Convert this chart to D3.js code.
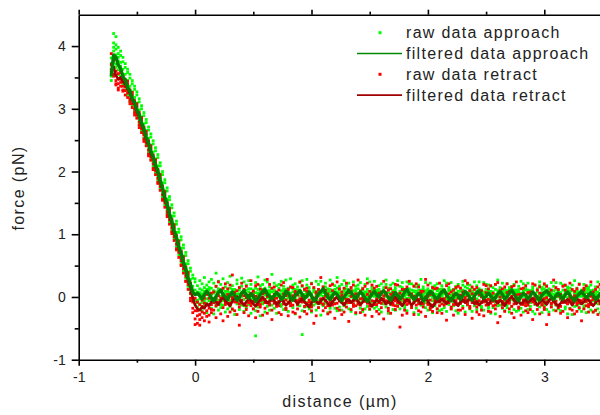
<!DOCTYPE html>
<html>
<head>
<meta charset="utf-8">
<script src="https://cdn.jsdelivr.net/npm/d3@7"></script>
<style>
  body { margin: 0; background: #fff; }
  svg { display: block; }
  text { font-family: Arial, "Liberation Sans", sans-serif; fill: #222; }
</style>
</head>
<body>
<script>
///////////////////////
// Force vs distance //
///////////////////////

// sample grid of the measurement (um), 0.02 steps from -0.72 to 3.50
var distance = d3.range(212).map(function(i) { return -0.72 + 0.02 * i; });

var xTicks = [-1, 0, 1, 2, 3];
var xMinor = [-0.5, 0.5, 1.5, 2.5, 3.5];
var yTicks = [-1, 0, 1, 2, 3, 4];
var yMinor = [-0.5, 0.5, 1.5, 2.5, 3.5];

var legendLabels = ["raw data approach", "filtered data approach", "raw data retract", "filtered data retract"];

// raw force (pN), several samples per grid point
var rawApproach = [
  [3.45,3.58,3.72,3.52,3.81,3.63],[3.80,4.05,3.92,4.20,3.74,3.98],[3.95,3.71,4.15,3.86,3.66,4.02],
  [3.62,3.88,3.76,3.98,3.55,3.82],[3.52,3.74,3.85,3.60,3.92,3.68],[3.46,3.63,3.75,3.55,3.82,3.40],
  [3.36,3.55,3.66,3.47,3.30,3.72],[3.27,3.45,3.58,3.38,3.63,3.22],[3.20,3.36,3.49,3.30,3.12,3.55],
  [3.10,3.27,3.40,3.21,3.45,3.04],[3.01,3.18,3.31,3.12,2.95,3.36],[2.92,3.09,3.22,3.03,3.27,2.86],
  [2.81,2.98,3.11,2.92,2.75,3.16],[2.70,2.87,3.00,2.81,3.05,2.64],[2.59,2.76,2.89,2.70,2.53,2.94],
  [2.48,2.65,2.78,2.59,2.83,2.42],[2.36,2.53,2.66,2.47,2.30,2.71],[2.25,2.42,2.55,2.36,2.60,2.19],
  [2.14,2.31,2.44,2.25,2.08,2.49],[2.03,2.20,2.33,2.14,2.38,1.97],[1.92,2.09,2.22,2.03,1.86,2.27],
  [1.79,1.96,2.09,1.90,2.14,1.73],[1.65,1.82,1.95,1.76,1.59,2.00],[1.52,1.69,1.82,1.63,1.87,1.46],
  [1.39,1.56,1.69,1.50,1.33,1.74],[1.25,1.42,1.55,1.36,1.60,1.19],[1.12,1.29,1.42,1.23,1.06,1.47],
  [.99,1.16,1.29,1.10,1.34,.93],[.86,1.03,1.16,.97,.80,1.21],[.73,.90,1.03,.84,1.08,.67],
  [.61,.78,.91,.72,.55,.96],[.48,.65,.78,.59,.83,.42],[.36,.53,.66,.47,.30,.71],
  [.23,.40,.53,.34,.58,.17],[.11,.28,.41,.22,.05,.46],[0,.17,.30,.11,.35,-.06],[-.06,.11,.24,.05,-.12,.29],
  [.18,-.05,.08,-.16,.04,-.09],[.26,.02,-.11,.13,-.03,.07],[-.09,.21,.05,-.22,.11,.00],[.15,-.14,.31,.01,-.06,.09],
  [.07,-.25,.19,-.03,.12,-.10],[-.12,.11,.24,-.06,.03,.15],[.03,.28,-.18,.14,-.07,.06],[.22,-.09,.06,-.27,.10,-.02],
  [-.04,.17,-.15,.38,.08,-.11],[.10,-.21,.02,.25,-.05,.13],[-.17,.08,.20,-.07,.01,-.12],[.29,-.02,-.13,.12,.05,-.06],
  [.05,.16,-.24,-.01,.09,-.06],[-.10,.23,.09,-.19,.02,-.04],[.14,-.06,.33,-.15,-.09,.07],[-.20,.04,.18,.07,.12,-.03],
  [.09,-.28,.12,-.03,.00,.10],[.21,-.11,-.02,.27,-.07,.05],[-.07,.15,-.20,.05,.11,-.01],[.17,.01,-.09,.30,.06,-.13],
  [-.14,.24,.07,-.23,-.04,.09],[.02,-.17,.19,.11,.04,-.08],[.26,-.05,-.12,.08,.13,.01],[-.03,.13,-.26,.20,-.10,.05],
  [.11,-.19,.04,-.08,.07,-.02],[-.22,.07,.23,.14,-.05,-.62],[.06,.32,-.10,-.16,.03,.12],[.18,-.07,.01,-.30,.09,-.04],
  [-.11,.20,.12,-.02,-.08,.06],[.08,-.24,.27,.03,.14,-.06],[.24,-.01,-.15,.10,.04,.06],[-.06,.16,-.21,.06,.10,-.03],
  [.13,-.13,.36,-.04,.01,.08],[-.18,.09,.02,.22,-.06,.11],[.04,-.09,.18,-.26,.07,-.01],[.20,.05,-.07,.14,-.12,.02],
  [-.15,.25,.10,-.12,.05,.00],[.09,-.20,-.03,.17,.12,-.07],[.27,-.04,.12,-.18,.03,.08],[-.08,.14,-.23,.02,-.02,.10],
  [.15,-.12,.06,.29,-.09,.04],[-.02,.19,-.17,-.06,.08,.13],[.12,-.27,.21,.04,-.04,.00],[-.13,.06,.16,-.09,.11,-.05],
  [.23,-.03,-.14,.11,.02,.07],[.01,.17,-.22,.26,-.08,-.60],[-.16,.10,.04,-.05,.13,-.02],[.19,-.15,.28,.07,.00,-.09],
  [.06,-.08,-.19,.15,.10,.03],[-.09,.22,.03,-.24,.05,-.03],[.14,-.02,.11,-.13,-.06,.08],[-.21,.08,.25,.00,.04,-.10],
  [.10,-.17,-.06,.20,.12,.02],[.25,.03,-.11,-.29,.07,-.04],[-.05,.16,.07,-.14,.01,.11],[.16,-.10,.22,.02,-.07,.06],
  [-.12,.04,-.25,.13,.09,-.02],[.08,.27,-.04,-.18,.03,.12],[.21,-.07,.09,-.01,-.11,.05],[-.18,.12,.18,-.10,.06,-.04],
  [.03,-.22,.14,.31,.00,.08],[.17,-.01,-.16,.06,.11,-.05],[-.07,.20,-.09,-.21,.04,.01],[.12,-.14,.26,.05,-.03,.09],
  [-.10,.07,-.02,.18,.13,-.06],[.22,-.19,.11,-.06,.02,.07],[.00,.15,-.23,.09,-.08,.04],[-.14,.24,.05,-.11,.10,-.01],
  [.09,-.05,.17,-.27,.03,.12],[.19,-.12,-.01,.13,-.06,.06],[-.03,.10,-.18,.23,.08,-.09],[.14,-.23,.06,-.04,.01,.11],
  [-.19,.02,.20,.08,-.05,.04],[.07,.29,-.08,-.15,.12,.00],[.24,-.06,.03,-.20,.06,-.03],[-.08,.13,-.13,.16,.02,.09],
  [.11,-.18,.25,.01,-.07,.05],[-.15,.06,.09,-.07,.11,-.02],[.18,-.02,-.20,.12,.04,.08],[.04,.21,-.10,-.24,-.03,.07],
  [-.11,.09,.15,-.03,.10,-.06],[.20,-.16,.02,.27,.01,.05],[-.06,.14,-.26,.07,-.09,.12],[.13,-.09,.19,-.12,.06,-.01],
  [-.20,.03,.10,.22,-.04,.08],[.08,-.21,-.05,.15,.12,.02],[.26,.00,-.13,-.08,.05,-.05],[-.04,.17,.06,-.19,.09,.03],
  [.15,-.11,.23,.03,-.06,.10],[-.13,.08,-.17,.11,.02,-.03],[.06,.24,-.02,-.22,.11,.04],[.21,-.08,.13,-.05,-.02,.07],
  [-.17,.11,.21,-.14,.05,.00],[.02,-.25,.08,.18,.10,-.07],[.16,-.03,-.18,.09,.03,.06],[-.09,.19,-.07,-.28,-.04,.11],
  [.11,-.13,.28,.04,.07,-.02],[-.12,.05,-.04,.16,.12,.01],[.23,-.17,.10,-.09,-.05,.06],[.01,.13,-.21,.07,.09,-.04],
  [-.16,.22,.04,-.12,.02,.08],[.09,-.06,.16,-.25,.11,-.01],[.18,-.14,-.03,.14,-.07,.05],[-.05,.12,-.19,.21,.04,.10],
  [.12,-.22,.07,-.02,.01,-.08],[-.20,.01,.18,.09,.13,.03],[.05,.26,-.09,-.17,-.02,.07],[.22,-.04,.02,-.23,.06,.00],
  [-.07,.15,-.12,.12,.10,-.05],[.10,-.19,.23,.00,.03,.08],[-.14,.07,.11,-.08,-.06,.12],[.17,-.01,-.22,.13,.05,-.02],
  [.03,.20,-.11,-.26,.09,.04],[-.10,.09,.14,-.04,.01,-.07],[.19,-.15,.01,.25,.11,.06],[-.06,.16,-.24,.06,-.03,.02],
  [.14,-.10,.20,-.13,.07,-.05],[-.19,.04,.08,.19,.12,.00],[.07,-.23,-.06,.14,.04,.09],[.24,.02,-.14,-.09,-.01,.06],
  [-.03,.18,.05,-.20,.10,-.04],[.13,-.12,.24,.02,-.07,.08],[-.15,.06,-.18,.10,.03,.11],[.05,.23,-.03,-.21,.08,-.02],
  [.20,-.07,.12,-.06,.01,.05],[-.18,.10,.19,-.15,.11,-.03],[.00,-.26,.07,.17,.06,.09],[.15,-.04,-.17,.08,-.05,.02],
  [-.08,.20,-.08,-.27,.12,.04],[.10,-.14,.27,.05,.00,-.06],[-.13,.04,-.05,.15,.08,.10],[.22,-.18,.09,-.10,.03,-.01],
  [.02,.12,-.22,.06,-.07,.07],[-.17,.21,.03,-.13,.10,.01],[.08,-.07,.15,-.24,.05,.12],[.17,-.15,-.04,.13,-.02,.06],
  [-.06,.11,-.20,.20,.09,-.05],[.11,-.23,.06,-.03,.02,.08],[-.21,.00,.17,.08,.12,-.04],[.04,.25,-.10,-.18,.06,.03],
  [.21,-.05,.01,-.24,-.06,.10],[-.08,.14,-.13,.11,.04,.00],[.09,-.20,.22,-.01,.11,-.07],[-.15,.06,.10,-.09,.02,.07],
  [.16,-.02,-.23,.12,.08,-.03],[.02,.19,-.12,-.27,-.04,.05],[-.11,.08,.13,-.05,.10,.01],[.18,-.16,.00,.24,.03,-.08],
  [-.07,.15,-.25,.05,.07,.12],[.13,-.11,.19,-.14,-.01,.04],[-.20,.03,.07,.18,.09,-.05],[.06,-.24,-.07,.13,.12,.02],
  [.23,.01,-.15,-.10,.05,.08],[-.04,.17,.04,-.21,-.03,.10],[.12,-.13,.23,.01,.06,-.06],[-.16,.05,-.19,.09,.11,.00],
  [.04,.22,-.04,-.22,.02,.07],[.19,-.08,.11,-.07,-.05,.03],[-.19,.09,.18,-.16,.08,.01],[-.01,-.27,.06,.16,.12,-.04],
  [.14,-.05,-.18,.07,.03,.09],[-.09,.19,-.09,-.28,.10,-.02],[.09,-.15,.26,.04,-.06,.06],[-.14,.03,-.06,.14,.07,.11],
  [.21,-.19,.08,-.11,.01,.04],[.01,.11,-.23,.05,.09,-.07],[-.18,.20,.02,-.14,.05,.10],[.07,-.08,.14,-.25,.12,.00],
  [.16,-.16,-.05,.12,-.03,.07],[-.07,.10,-.21,.19,.06,.02],[.10,-.24,.05,-.04,.11,-.06],[-.22,-.01,.16,.07,.03,.09],
  [.03,.24,-.11,-.19,.08,-.02],[.20,-.06,.00,-.25,.05,.12],[-.09,.13,-.14,.10,-.04,.06]
];

var rawRetract = [
  [3.70,3.88,3.62,3.58],[3.55,3.78,3.66,3.52],[3.45,3.60,3.38,3.40],[3.40,3.56,3.33,3.30],[3.42,3.58,3.47,3.36],
  [3.36,3.52,3.30,3.28],[3.29,3.46,3.35,3.22],[3.25,3.40,3.18,3.44],[3.16,3.30,3.12,3.08],[3.08,3.22,3.02,3.26],
  [2.99,3.13,2.94,2.90],[2.90,3.04,2.85,3.08],[2.79,2.94,2.74,2.70],[2.68,2.83,2.62,2.86],[2.58,2.71,2.52,2.48],
  [2.46,2.60,2.41,2.64],[2.34,2.49,2.28,2.25],[2.23,2.37,2.18,2.41],[2.12,2.26,2.05,2.03],[2.01,2.15,1.95,2.19],
  [1.89,2.03,1.83,1.81],[1.76,1.91,1.70,1.95],[1.63,1.77,1.56,1.54],[1.50,1.64,1.43,1.68],[1.36,1.51,1.31,1.28],
  [1.23,1.37,1.16,1.41],[1.10,1.24,1.04,1.01],[.96,1.11,.90,1.15],[.84,.98,.77,.75],[.71,.85,.63,.89],
  [.58,.73,.51,.50],[.45,.60,.38,.64],[.33,.48,.25,.25],[.20,.36,.12,.39],[.06,.22,-.02,-.06],
  [-.08,.09,-.18,-.25],[-.22,-.02,-.35,-.44],[-.30,-.08,-.42,-.22],[-.28,-.12,-.36,-.45],[-.33,-.05,-.24,-.15],
  [-.26,-.10,-.02,-.38],[-.22,.04,-.31,-.13],[-.18,-.02,-.29,-.40],[-.25,.06,-.12,-.20],
  [.08,-.21,-.05,-.09],[-.14,.17,-.33,-.02],[.02,-.09,.24,-.12],[-.27,.11,-.02,-.06],[.14,-.17,-.38,.01],
  [-.06,.21,-.12,-.10],[-.31,.04,.13,-.04],[.19,-.10,-.24,-.13],[-.03,.35,-.19,.00],[-.22,.07,.01,-.08],
  [.10,-.28,-.08,-.03],[-.16,.15,-.45,-.11],[.05,-.05,.22,-.07],[-.25,.12,-.11,.02],[.17,-.20,-.01,-.14],
  [-.09,.03,-.30,-.05],[.26,-.14,.06,-.10],[-.19,.09,-.07,.03],[.01,-.33,.18,-.08],[-.12,.20,-.23,-.01],
  [.13,-.06,-.16,-.12],[-.29,.05,.10,-.04],[.07,-.18,-.04,-.09],[-.08,.28,-.26,.01],[.20,-.11,.02,-.13],
  [-.21,.14,-.36,-.06],[.04,-.02,.16,-.10],[-.15,.08,-.09,-.02],[.11,-.25,-.14,-.07],[-.04,.19,-.28,.00],
  [.23,-.07,.05,-.11],[-.18,.02,-.20,-.05],[.06,-.30,.12,-.09],[-.10,.16,-.03,-.14],[.15,-.13,-.24,.02],
  [-.26,.07,.09,-.06],[.03,-.19,-.06,-.12],[-.07,.24,-.32,-.03],[.18,-.04,.00,-.08],[-.23,.12,-.15,.01],
  [.09,-.27,.14,-.10],[-.13,.04,-.08,-.05],[.21,-.16,-.22,-.13],[-.02,.15,-.42,-.07],[-.30,.08,.06,.00],
  [.12,-.10,-.17,-.09],[-.09,.31,-.03,-.04],[.16,-.22,-.12,-.11],[-.17,.01,.11,-.06],[.05,-.14,-.27,.02],
  [-.24,.18,-.05,-.08],[.10,-.08,.20,-.13],[-.11,.06,-.34,-.03],[.24,-.18,-.01,-.10],[-.05,.13,-.21,-.06],
  [-.28,.03,.08,-.01],[.14,-.24,-.10,-.12],[-.08,.22,-.16,-.04],[.07,-.05,-.39,-.09],[-.20,.10,.15,.01],
  [.19,-.15,-.06,-.11],[-.14,.05,-.25,-.05],[.02,.27,-.11,-.08],[-.25,-.03,.09,-.13],[.13,-.20,-.02,-.02],
  [-.06,.17,-.29,-.07],[.22,-.09,.04,-.10],[-.19,.09,-.14,.00],[.05,-.31,.19,-.06],[-.12,.14,-.07,-.12],
  [.17,-.12,-.23,-.03],[-.27,.06,.02,-.09],[.08,-.17,-.10,-.05],[-.03,.25,-.35,.02],[.15,-.06,.07,-.11],
  [-.22,.11,-.18,-.07],[.04,-.26,.13,-.01],[-.10,.07,-.04,-.13],[.20,-.14,-.20,-.06],[-.15,.19,-.09,-.04],
  [.06,-.08,-.48,-.10],[-.29,.02,.12,-.02],[.12,-.21,-.05,-.08],[-.07,.16,-.26,-.12],[.25,-.10,.03,-.05],
  [-.17,.05,-.13,.01],[.01,-.28,.17,-.09],[-.13,.21,-.02,-.06],[.16,-.04,-.22,-.11],[-.24,.09,.06,-.03],
  [.09,-.16,-.11,-.07],[-.04,.28,-.31,.00],[.19,-.12,.01,-.10],[-.20,.04,-.17,-.05],[.06,-.23,.15,-.13],
  [-.11,.13,-.06,-.02],[.14,-.19,-.25,-.08],[-.02,.22,-.14,-.04],[-.26,-.05,.08,-.11],[.11,-.13,-.03,-.06],
  [-.08,.18,-.37,.01],[.21,-.07,.05,-.09],[-.16,.08,-.19,-.04],[.03,-.29,.11,-.12],[-.12,.15,-.08,-.06],
  [.17,-.11,-.21,-.02],[-.21,.03,.14,-.10],[.08,-.18,-.06,-.07],[-.05,.26,-.28,-.01],[.22,-.08,.02,-.12],
  [-.18,.10,-.15,-.05],[.05,-.34,.16,-.09],[-.09,.12,-.04,-.03],[.15,-.16,-.24,-.11],[-.28,.07,.04,-.06],
  [.10,-.21,-.09,.00],[-.03,.20,-.30,-.08],[.18,-.05,.07,-.13],[-.23,.13,-.12,-.04],[.02,-.24,.18,-.10],
  [-.14,.06,-.02,-.07],[.20,-.13,-.19,-.01],[-.07,.23,-.41,-.09],[-.31,.00,.10,-.05],[.13,-.17,-.07,-.12],
  [-.10,.16,-.23,-.03],[.07,-.06,.21,-.08],[-.19,.09,-.10,-.06],[.16,-.26,-.15,.01],[-.04,.18,-.33,-.11],
  [.24,-.09,.03,-.07],[-.16,.04,-.18,-.02],[.04,-.29,.13,-.10],[-.12,.14,-.05,-.05],[.18,-.14,-.22,-.09],
  [-.25,.06,.07,-.13],[.08,-.20,-.04,-.04],[-.06,.21,-.36,-.08],[.19,-.03,.01,-.11],[-.20,.11,-.13,.00],
  [.06,-.27,.16,-.06],[-.13,.05,-.07,-.12],[.21,-.17,-.20,-.03],[-.01,.17,-.44,-.08],[-.28,.07,.05,-.05],
  [.11,-.11,-.16,-.10],[-.08,.27,-.02,-.04],[.15,-.22,-.12,-.07],[-.17,.02,.12,-.13],[.04,-.15,-.26,-.02],
  [-.23,.17,-.06,-.09],[.11,-.07,.19,-.06],[-.10,.05,-.33,-.11],[.22,-.19,.00,-.04],[-.06,.12,-.21,-.08],
  [-.27,.02,.09,-.01],[.13,-.23,-.09,-.12],[-.09,.20,-.17,-.05],[.06,-.06,-.38,-.10],[-.19,.11,.14,-.03],
  [.18,-.14,-.05,-.07],[-.15,.04,-.24,-.12],[.01,.24,-.12,-.06],[-.24,-.04,.08,-.02],[.12,-.21,-.01,-.09],
  [-.05,.16,-.28,-.05],[.20,-.10,.04,-.11],[-.18,.08,-.15,-.04]
];

// filtered force (pN), one value per grid point
var filteredApproach = [
  3.52,3.86,3.82,3.70,3.64,3.51,3.46,3.34,3.28,3.16,3.10,2.98,2.90,2.77,2.68,2.55,2.45,2.32,2.23,2.10,
  2.01,1.86,1.74,1.59,1.48,1.32,1.21,1.06,.95,.80,.70,.55,.45,.30,.20,.07,.04,
  .06,.02,-.03,.04,.09,.05,-.02,-.06,.01,.07,.11,.04,.00,-.04,.03,.08,.02,-.05,-.01,.06,
  .10,.03,-.02,.05,.01,-.07,-.02,.04,.08,.12,.05,.01,-.03,.02,.07,.03,-.04,.00,.09,.06,
  -.01,-.05,.03,.06,.10,.04,-.02,.01,.08,.02,-.06,-.03,.05,.09,.13,.06,.00,-.04,.02,.07,
  .04,-.01,-.06,.00,.05,.11,.07,.02,-.03,.03,.08,.04,-.02,-.07,-.01,.05,.09,.03,.00,.06,
  .10,.05,-.01,-.05,.02,.07,.03,-.03,.01,.08,.12,.06,.01,-.04,.00,.06,.02,-.06,-.02,.04,
  .09,.05,.00,-.03,.03,.08,.11,.04,-.02,-.06,.01,.06,.02,-.04,.03,.09,.05,-.01,-.05,.02,
  .07,.10,.03,-.02,.01,.06,.02,-.05,-.01,.05,.09,.04,-.03,.00,.07,.11,.05,-.02,-.06,.01,
  .06,.03,-.03,.02,.08,.04,-.02,-.05,.03,.07,.10,.05,.00,-.04,.02,.06,.01,-.03,.04,.08,
  .03,-.02,-.06,.01,.05,.09,.04,-.01,.02,.07,.03,-.04,.00,.05,.02
];

var filteredRetract = [
  3.74,3.66,3.53,3.47,3.50,3.43,3.39,3.31,3.25,3.13,3.07,2.95,2.87,2.73,2.65,2.51,2.42,2.28,2.20,2.06,
  1.98,1.82,1.71,1.55,1.45,1.28,1.18,1.02,.92,.76,.67,.51,.42,.26,.14,-.02,-.13,-.19,-.21,-.16,
  -.18,-.11,-.14,-.08,
  -.03,-.08,-.12,-.05,-.01,-.06,-.10,-.14,-.07,-.02,.01,-.04,-.09,-.13,-.08,-.03,-.06,-.11,-.15,-.09,
  -.04,.00,-.05,-.10,-.07,-.02,-.06,-.12,-.09,-.04,-.08,-.13,-.10,-.05,-.01,-.06,-.11,-.07,-.03,-.08,
  -.12,-.16,-.09,-.04,-.07,-.11,-.06,-.02,-.05,-.10,-.14,-.08,-.03,.00,-.06,-.09,-.13,-.07,-.04,-.09,
  -.05,-.01,-.07,-.12,-.08,-.03,-.06,-.10,-.15,-.09,-.05,-.08,-.02,-.06,-.11,-.07,-.12,-.04,.00,-.05,
  -.10,-.14,-.08,-.04,-.07,-.13,-.09,-.03,-.06,-.11,-.05,-.01,-.07,-.12,-.16,-.10,-.05,-.08,-.03,-.07,
  -.11,-.06,-.02,-.05,-.10,-.14,-.08,-.04,-.09,-.06,-.01,-.05,-.11,-.07,-.13,-.09,-.04,-.07,-.12,-.06,
  -.02,-.06,-.10,-.05,-.09,-.14,-.08,-.03,.00,-.05,-.11,-.07,-.12,-.08,-.04,-.09,-.06,-.02,-.07,-.13,
  -.09,-.04,-.08,-.12,-.06,-.02,-.07,-.11,
  -.15,-.10,-.05,-.09,-.04,-.08,-.13,-.07,-.03,-.06,-.11,-.08,-.02,-.05,-.10,-.14,-.09,-.05,-.08,-.04
];

var width = 600, height = 415;
var plot = { left: 78.7, top: 14.7, bottom: 359.7, right: 602.5 };

var x = d3.scaleLinear().domain([-1, 3.5]).range([plot.left, plot.right]);
var y = d3.scaleLinear().domain([-1, 4.5]).range([plot.bottom, plot.top]);

var svg = d3.select("body").append("svg")
    .attr("width", width)
    .attr("height", height);

svg.append("clipPath").attr("id", "plotclip")
  .append("rect")
    .attr("x", plot.left).attr("y", plot.top)
    .attr("width", width - plot.left).attr("height", plot.bottom - plot.top);

var area = svg.append("g").attr("clip-path", "url(#plotclip)");

// flatten raw samples into points
var toPoints = function(rows) {
    var pts = [];
    rows.forEach(function(row, i) {
        row.forEach(function(v) { pts.push([distance[i], v]); });
    });
    return pts;
};

var drawRaw = function(rows, color) {
    area.append("g").selectAll("rect")
        .data(toPoints(rows))
      .enter().append("rect")
        .attr("x", function(d) { return x(d[0]) - 1.4; })
        .attr("y", function(d) { return y(d[1]) - 1.4; })
        .attr("width", 2.8)
        .attr("height", 2.8)
        .style("fill", color);
};

var line = d3.line()
    .x(function(d, i) { return x(distance[i]); })
    .y(function(d) { return y(d); });

var drawFiltered = function(values, color, w) {
    area.append("path")
        .attr("d", line(values))
        .style("fill", "none")
        .style("stroke", color)
        .style("stroke-width", w)
        .style("stroke-linejoin", "round");
};

drawRaw(rawApproach, "#00ff00");
drawRaw(rawRetract, "#ff0000");
drawFiltered(filteredRetract, "#a00000", 2.6);
drawFiltered(filteredApproach, "#007f00", 3.4);

// Axes
var axisStyle = function(g) {
    g.select(".domain").style("stroke", "#000").style("stroke-width", 1.6);
    g.selectAll(".tick line").style("stroke", "#000").style("stroke-width", 1.6);
    g.selectAll(".tick text")
        .style("font-size", "14px")
        .style("fill", "#222");
};

var label = function(d) { return String(d); };

svg.append("g")
    .attr("transform", "translate(0," + plot.bottom + ")")
    .call(d3.axisBottom(x).tickValues(xTicks).tickSize(6).tickSizeOuter(0).tickPadding(6)
        .tickFormat(label))
    .call(axisStyle);
svg.append("g")
    .attr("transform", "translate(0," + plot.bottom + ")")
    .call(d3.axisBottom(x).tickValues(xMinor).tickSize(3).tickFormat(""))
    .call(axisStyle)
    .select(".domain").remove();

svg.append("g")
    .attr("transform", "translate(0," + plot.top + ")")
    .call(d3.axisTop(x).tickValues(xTicks).tickSize(5).tickSizeOuter(0).tickFormat(""))
    .call(axisStyle);
svg.append("g")
    .attr("transform", "translate(0," + plot.top + ")")
    .call(d3.axisTop(x).tickValues(xMinor).tickSize(3).tickFormat(""))
    .call(axisStyle)
    .select(".domain").remove();

svg.append("g")
    .attr("transform", "translate(" + plot.left + ",0)")
    .call(d3.axisLeft(y).tickValues(yTicks).tickSize(7).tickSizeOuter(0).tickPadding(6)
        .tickFormat(label))
    .call(axisStyle);
svg.append("g")
    .attr("transform", "translate(" + plot.left + ",0)")
    .call(d3.axisLeft(y).tickValues(yMinor).tickSize(4).tickFormat(""))
    .call(axisStyle)
    .select(".domain").remove();

svg.selectAll("text").attr("font-family", null);

// Axis titles
svg.append("text")
    .attr("x", 340).attr("y", 407)
    .attr("text-anchor", "middle")
    .style("font-size", "16px")
    .style("letter-spacing", "1.4px")
    .text("distance (\u00b5m)");

svg.append("text")
    .attr("transform", "translate(24,188) rotate(-90)")
    .attr("text-anchor", "middle")
    .style("font-size", "16px")
    .style("letter-spacing", "1.4px")
    .text("force (pN)");

// Legend
var legend = svg.append("g");
var legendColors = ["#00ff00", "#008800", "#ff0000", "#a00000"];
legendLabels.forEach(function(label, i) {
    var cy = 32.7 + i * 20.8;
    if (i % 2 === 0) {
        legend.append("rect")
            .attr("x", 378.5).attr("y", cy - 1.5)
            .attr("width", 3).attr("height", 3)
            .style("fill", legendColors[i]);
    } else {
        legend.append("line")
            .attr("x1", 357).attr("x2", 402)
            .attr("y1", cy).attr("y2", cy)
            .style("stroke", legendColors[i])
            .style("stroke-width", 1.6);
    }
    legend.append("text")
        .attr("x", 406).attr("y", cy + 5.5)
        .style("font-size", "16px")
        .style("letter-spacing", "1.3px")
        .text(label);
});
</script>
</body>
</html>
